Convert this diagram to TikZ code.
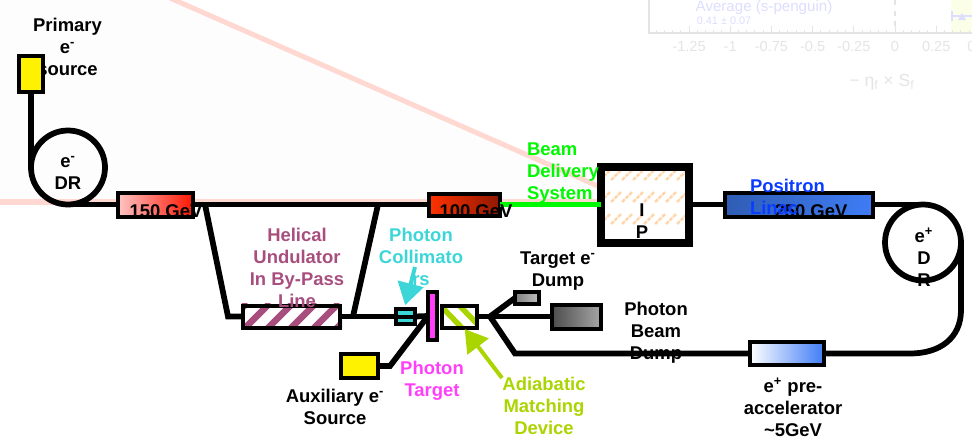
\documentclass[tikz,border=0pt]{standalone}
\usepackage{fontspec}
\setmainfont{Liberation Sans}
\usetikzlibrary{arrows.meta}
\definecolor{BeamPink}{HTML}{FFD8D2}
\definecolor{BeamPale}{HTML}{FDFDFD}
\definecolor{BeamMauve}{HTML}{A84E7F}
\definecolor{BeamCyan}{HTML}{3CD6D8}
\definecolor{BeamMagenta}{HTML}{FF40F8}
\definecolor{BeamOlive}{HTML}{ABD500}
\definecolor{BeamGreen}{HTML}{00F800}
\definecolor{BeamBlue}{HTML}{0A3CFF}
\definecolor{BeamHatch}{HTML}{FFD6AC}
\definecolor{LinacRose}{HTML}{FFC4C4}
\definecolor{LinacRed}{HTML}{FF1500}
\definecolor{LinacHot}{HTML}{FF3200}
\definecolor{LinacDark}{HTML}{8E1800}
\definecolor{LinacNavy}{HTML}{2F5DB4}
\definecolor{LinacSky}{HTML}{3F7CF6}
\definecolor{PlotGrey}{HTML}{E4E4E4}
\definecolor{PlotBlue}{HTML}{DDDDFF}
\definecolor{PlotBand}{HTML}{FBFFE8}
\tikzset{
  every node/.style={font=\fontsize{10.5}{12.5}\selectfont\bfseries, inner sep=0pt, outer sep=0pt, align=center, text=black},
  wh/.style 2 args={minimum width=#1*0.02cm, minimum height=#2*0.02cm},
  box/.style={draw=black, line width=0.08cm},
  ring/.style={draw=black, line width=0.115cm, circle, minimum size=#1*0.02cm},
  beam/.style={draw=black, line width=0.115cm},
  pointer/.style={-{Triangle[length=0.44cm,width=0.52cm]}, line width=0.08cm, draw=#1},
  plottext/.style={font=\fontsize{8.3}{10}\selectfont, text=PlotGrey},
}
\begin{document}
\begin{tikzpicture}[x=0.02cm,y=-0.02cm]
  \useasboundingbox (0,0) rectangle (972,443);

  % Pale slide behind the beam line
  \fill[BeamPale] (0,0) -- (170,0) -- (600,187) -- (600,202) -- (0,202) -- cycle;
  \draw[BeamPink, line width=0.1cm] (170,-2) -- (600,187);
  \draw[BeamPink, line width=0.12cm] (0,202) -- (600,202);

  % Left-over plot in the corner
  \fill[PlotBand] (951,0) rectangle (972,33);
  \draw[PlotGrey, line width=0.03cm] (649,0) -- (649,33) -- (972,33);
  \draw[PlotGrey, line width=0.03cm, dashed] (895,0) -- (895,33);
  \foreach \t in {-29,...,9}
    \draw[PlotGrey, line width=0.02cm] (895+8.24*\t,33) -- (895+8.24*\t,29.5);
  \foreach \t in {-25,-20,...,5}
    \draw[PlotGrey, line width=0.02cm] (895+8.24*\t,33) -- (895+8.24*\t,26);
  \foreach \lab/\t in {-1.25/-5,-1/-4,-0.75/-3,-0.5/-2,-0.25/-1,0/0,0.25/1,0.5/2}
    \node[plottext] (tick\t) at (895+41.2*\t,46) {\lab};
  \node[plottext, font=\fontsize{10}{12}\selectfont] (plotaxis) at (882,82) {− η\textsubscript{f} × S\textsubscript{f}};
  \node[plottext, text=PlotBlue, font=\fontsize{8.6}{10}\selectfont] (plotavg) at (764,8) {Average (s-penguin)};
  \node[plottext, text=PlotBlue, font=\fontsize{6.2}{8}\selectfont] (plotval) at (724,21) {0.41 ± 0.07};
  \draw[PlotBlue, line width=0.03cm] (952,11) -- (952,21);
  \draw[PlotBlue, line width=0.03cm] (952,16) -- (972,16);
  \fill[PlotBlue] (962,13) -- (958,20) -- (966,20) -- cycle;

  % Label under the yellow box
  \node (primarylabel) at (67.5,46.5) {Primary\\e\textsuperscript{-}\\source};

  % Hatching, the boxes go on top of it
  \begin{scope}
    \clip (241,303) rectangle (342,329);
    \foreach \sx in {221,244,...,336}
      \draw[BeamMauve, line width=0.13cm] (\sx,329) -- (\sx+26,303);
  \end{scope}
  \begin{scope}
    \clip (441,304) rectangle (477,328);
    \foreach \sx in {438,457}
      \draw[BeamOlive, line width=0.11cm] (\sx,303) -- (\sx+25,329);
  \end{scope}
  \begin{scope}
    \clip (601,167) rectangle (689,243);
    \foreach \ry in {175,197,219}
      \foreach \sx in {600,611,...,690}
        \draw[BeamHatch, line width=0.05cm, dash pattern=on 0.08cm off 0.02cm] (\sx,\ry+5) -- (\sx+10,\ry-5);
  \end{scope}

  % Beam line elements
  \node[box, fill=yellow, wh={24}{36}] (source) at (31,74) {};
  \node[ring=74] (edr) at (68,167.5) {};
  \node[box, wh={75}{24}, left color=LinacRose, right color=LinacRed] (linacA) at (155.5,204.5) {};
  \node[box, wh={71}{22}, left color=LinacHot, right color=LinacDark] (linacB) at (464.5,204.5) {};
  \node[draw=black, line width=0.16cm, wh={88}{76}] (ip) at (645,204.5) {};
  \node[box, wh={148}{24}, left color=LinacNavy, right color=LinacSky] (poslinac) at (799,204.5) {};
  \node[ring=76] (pdr) at (923,242.5) {};
  \node[box, wh={74}{23}, left color=white, right color=LinacSky] (preacc) at (787,353.5) {};
  \node[box, wh={97}{22}] (undulator) at (291.5,316.5) {};
  \node[box, fill=BeamCyan, wh={19}{15}] (collim) at (405.5,316.5) {};
  \node[box, fill=BeamMagenta, wh={9}{48}] (target) at (432.5,316) {};
  \node[box, wh={35}{22}] (amd) at (459.5,316.5) {};
  \node[box, wh={24}{12}, left color=black!50, right color=black!25] (smalldump) at (527,298) {};
  \node[box, wh={49}{24}, left color=black!70, right color=black!35] (bigdump) at (576.5,316.5) {};
  \node[box, fill=yellow, wh={37}{24}] (auxsource) at (359.5,366) {};

  % Corners of the lines
  \coordinate (byin) at (205,204.5);
  \coordinate (byturn) at (228,316.5);
  \coordinate (byout) at (353,316.5);
  \coordinate (byret) at (378,204.5);
  \coordinate (auxbend) at (390,366);
  \coordinate (fork) at (490,316.5);
  \coordinate (forkturn) at (515,353.5);
  \coordinate (bendtop) at (961,310);
  \coordinate (bendend) at (910,353.5);
  \coordinate (colltail) at (415,267);
  \coordinate (amdtail) at (502,378);

  % Beam lines
  \draw[beam] (source.south) -- (edr.west);
  \draw[beam] (edr.south) -- (linacA.west);
  \draw[beam] (linacA.east) -- (linacB.west);
  \draw[beam, BeamGreen] (linacB.east) -- (ip.west);
  \draw[beam] (ip.east) -- (poslinac.west);
  \draw[beam] (poslinac.east) -- (pdr.north);
  \draw[beam] (pdr.east) -- (bendtop) .. controls (961,338) and (940,353.5) .. (bendend) -- (preacc.east);
  \draw[beam] (preacc.west) -- (forkturn) -- (fork);
  \draw[beam] (byin) -- (byturn) -- (undulator.west);
  \draw[beam] (byout) -- (byret);
  \draw[beam] (undulator.east) -- (collim.west);
  \draw[beam] (collim.east) -- (target.west);
  \draw[box] (collim.west) -- (collim.east);
  \draw[beam] (auxsource.east) -- (auxbend) -- (target.west);
  \draw[beam] (amd.east) -- (fork) -- (bigdump.west);
  \draw[beam] (fork) -- (smalldump.west);

  % Pointers
  \draw[pointer=BeamCyan, shorten >=0.08cm] (colltail) -- (collim.100);
  \draw[pointer=BeamOlive, shorten >=0.04cm] (amdtail) -- (amd.290);

  % Labels
  \node (edrlabel) at (68,172.5) {e\textsuperscript{-}\\DR};
  \node (linacAlabel) at (166,211) {150 GeV};
  \node (linacBlabel) at (476,211) {100 GeV};
  \node[text=BeamGreen, align=left, anchor=west] (bdslabel) at (527,173) {Beam\\Delivery\\System};
  \node (iplabel) at (642,221.5) {I\\P};
  \node (poslinacvalue) at (811,211) {250 GeV};
  \node[text=BeamBlue, align=left, anchor=west] (poslinaclabel) at (750,197) {Positron\\Linac};
  \node (pdrlabel) at (924,257.5) {e\textsuperscript{+}\\D\\R};
  \node (preacclabel) at (793,407) {e\textsuperscript{+} pre-\\accelerator\\\textasciitilde5GeV};
  \node[text=BeamMauve] (undulatorlabel) at (297,268) {Helical\\Undulator\\In By-Pass\\Line};
  \node[text=BeamCyan] (collimlabel) at (421,257) {Photon\\Collimato\\rs};
  \node[text=BeamMagenta] (targetlabel) at (432,381) {Photon\\Target};
  \node (auxlabel) at (335,407) {Auxiliary e\textsuperscript{-}\\Source};
  \node[text=BeamOlive] (amdlabel) at (544,406) {Adiabatic\\Matching\\Device};
  \node (smalldumplabel) at (558,271) {Target e\textsuperscript{-}\\Dump};
  \node (bigdumplabel) at (656,333) {Photon\\Beam\\Dump};
\end{tikzpicture}
\end{document}
